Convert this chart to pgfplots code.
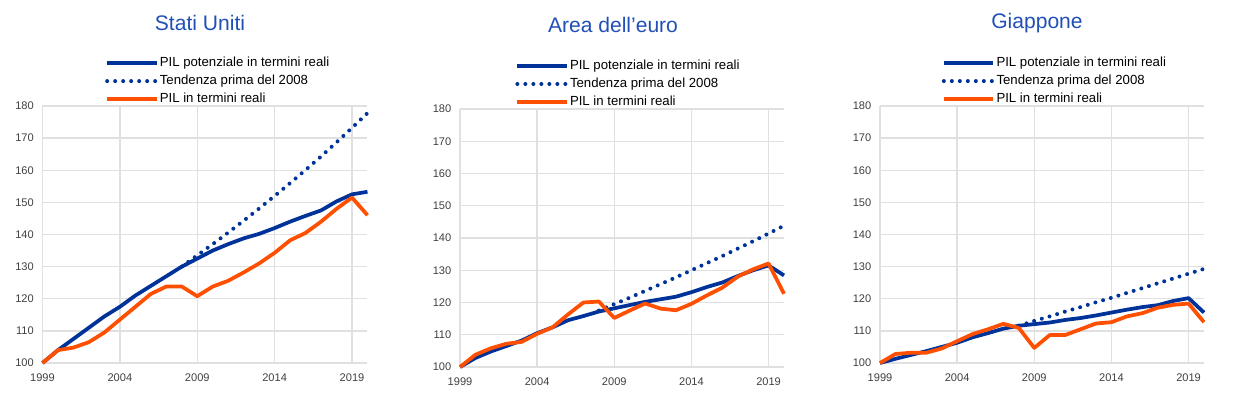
\documentclass[border=0pt]{standalone}
\usepackage{pgfplots}
\pgfplotsset{compat=1.18}
\usepackage{fontspec}
\setmainfont{Liberation Sans}
\definecolor{potblue}{HTML}{003399}
\definecolor{realorange}{HTML}{FF4F00}
\definecolor{titleblue}{HTML}{2050B5}
\definecolor{ticktext}{HTML}{404040}
\definecolor{gridgray}{HTML}{E0E0E0}

\pgfplotsset{
  panel/.style={
    scale only axis,
    xmin=1999, xmax=2020, ymin=100, ymax=180,
    xtick={1999,2004,2009,2014,2019},
    ytick={100,110,...,180},
    axis line style={draw=none},
    grid=major,
    major grid style={gridgray, line width=1.1pt},
    major tick length=0pt,
    tick style={draw=none},
    /pgf/number format/assume math mode=true,
    /pgf/number format/1000 sep={},
    tick label style={font=\fontsize{8.3}{9}\selectfont, text=ticktext},
    xticklabel style={yshift=-4.5pt},
    yticklabel style={xshift=-3pt},
    clip=false,
    legend cell align=left,
    legend style={draw=none, fill=none, inner sep=0pt, anchor=west,
      font=\fontsize{9.9}{10}\selectfont, row sep=2.6pt,
      nodes={inner sep=1pt, text height=7pt, text depth=2pt}},
    legend image code/.code={\draw[##1] (0pt,0pt) -- (37pt,0pt);},
  },
  potstyle/.style={potblue, line width=2.8pt, line join=round},
  trendstyle/.style={potblue, line width=3pt, line cap=round, dash pattern=on 0pt off 6pt},
  realstyle/.style={realorange, line width=2.8pt, line join=round},
}

\begin{document}
\begin{tikzpicture}
\useasboundingbox (0,0) rectangle (930pt,297.75pt);

% ---------------- Stati Uniti ----------------
\begin{axis}[panel, width=243.75pt, height=192.75pt,
  at={(31.875pt,25.5pt)}, anchor=south west,
  legend style={at={(0.192,1.097)}}]
\addplot[potstyle] coordinates {
(1999,100) (2000,104) (2001,107.5) (2002,111) (2003,114.5) (2004,117.5)
(2005,121) (2006,124) (2007,127) (2008,130) (2009,132.5) (2010,135)
(2011,137) (2012,138.8) (2013,140.2) (2014,142) (2015,144) (2016,145.8)
(2017,147.5) (2018,150.3) (2019,152.5) (2020,153.3)};
\addlegendentry{PIL potenziale in termini reali}
\addplot[trendstyle] coordinates {
(2008,130) (2009,133.5) (2010,137) (2011,140.6) (2012,144.3) (2013,148.1)
(2014,152) (2015,156) (2016,160.1) (2017,164.3) (2018,168.7) (2019,173.2) (2020,177.8)};
\addlegendentry{Tendenza prima del 2008}
\addplot[realstyle] coordinates {
(1999,100) (2000,104) (2001,104.8) (2002,106.5) (2003,109.5) (2004,113.5)
(2005,117.5) (2006,121.5) (2007,123.8) (2008,123.8) (2009,120.8) (2010,123.8)
(2011,125.6) (2012,128.2) (2013,131) (2014,134.3) (2015,138.2) (2016,140.5)
(2017,144) (2018,148) (2019,151.5) (2020,146)};
\addlegendentry{PIL in termini reali}
\end{axis}

% ---------------- Area dell'euro ----------------
\begin{axis}[panel, width=243pt, height=193.5pt,
  at={(345pt,22.5pt)}, anchor=south west,
  legend style={at={(0.17,1.097)}}]
\addplot[potstyle] coordinates {
(1999,100) (2000,102.8) (2001,104.8) (2002,106.5) (2003,108.2) (2004,110.5)
(2005,112.3) (2006,114.5) (2007,115.8) (2008,117.2) (2009,118.2) (2010,119.2)
(2011,120.2) (2012,121) (2013,121.8) (2014,123.2) (2015,124.8) (2016,126.2)
(2017,128.2) (2018,130) (2019,131.5) (2020,128.4)};
\addlegendentry{PIL potenziale in termini reali}
\addplot[trendstyle] coordinates {
(2008,117.5) (2009,119.5) (2010,121.5) (2011,123.6) (2012,125.7) (2013,127.8)
(2014,130) (2015,132.2) (2016,134.4) (2017,136.7) (2018,139) (2019,141.4) (2020,143.8)};
\addlegendentry{Tendenza prima del 2008}
\addplot[realstyle] coordinates {
(1999,100) (2000,103.8) (2001,105.8) (2002,107.2) (2003,107.8) (2004,110.3)
(2005,112.3) (2006,116.3) (2007,120) (2008,120.3) (2009,115.2) (2010,117.5)
(2011,119.7) (2012,118.1) (2013,117.6) (2014,119.6) (2015,122.2) (2016,124.6)
(2017,128) (2018,130.3) (2019,132.1) (2020,122.7)};
\addlegendentry{PIL in termini reali}
\end{axis}

% ---------------- Giappone ----------------
\begin{axis}[panel, width=243pt, height=192.75pt,
  at={(660pt,25.5pt)}, anchor=south west,
  legend style={at={(0.19,1.097)}}]
\addplot[potstyle] coordinates {
(1999,100) (2000,101.3) (2001,102.5) (2002,103.7) (2003,105) (2004,106.3)
(2005,108) (2006,109.3) (2007,110.7) (2008,111.6) (2009,112.1) (2010,112.6)
(2011,113.4) (2012,114) (2013,114.8) (2014,115.7) (2015,116.6) (2016,117.4)
(2017,118) (2018,119.3) (2019,120.2) (2020,115.7)};
\addlegendentry{PIL potenziale in termini reali}
\addplot[trendstyle] coordinates {
(2008,111.6) (2009,113.1) (2010,114.5) (2011,116) (2012,117.4) (2013,118.9)
(2014,120.3) (2015,121.8) (2016,123.3) (2017,124.8) (2018,126.3) (2019,127.8) (2020,129.3)};
\addlegendentry{Tendenza prima del 2008}
\addplot[realstyle] coordinates {
(1999,100) (2000,102.8) (2001,103.2) (2002,103.2) (2003,104.5) (2004,106.8)
(2005,109) (2006,110.5) (2007,112.2) (2008,110.9) (2009,104.7) (2010,108.7)
(2011,108.7) (2012,110.5) (2013,112.3) (2014,112.7) (2015,114.5) (2016,115.5)
(2017,117.2) (2018,118.1) (2019,118.5) (2020,112.7)};
\addlegendentry{PIL in termini reali}
\end{axis}

% titles
\node[text=titleblue, font=\fontsize{15.8}{17}\selectfont] at (150pt,280.5pt) {Stati Uniti};
\node[text=titleblue, font=\fontsize{15.8}{17}\selectfont] at (459.75pt,279pt) {Area dell’euro};
\node[text=titleblue, font=\fontsize{15.8}{17}\selectfont] at (777.75pt,280.5pt) {Giappone};
\end{tikzpicture}
\end{document}
